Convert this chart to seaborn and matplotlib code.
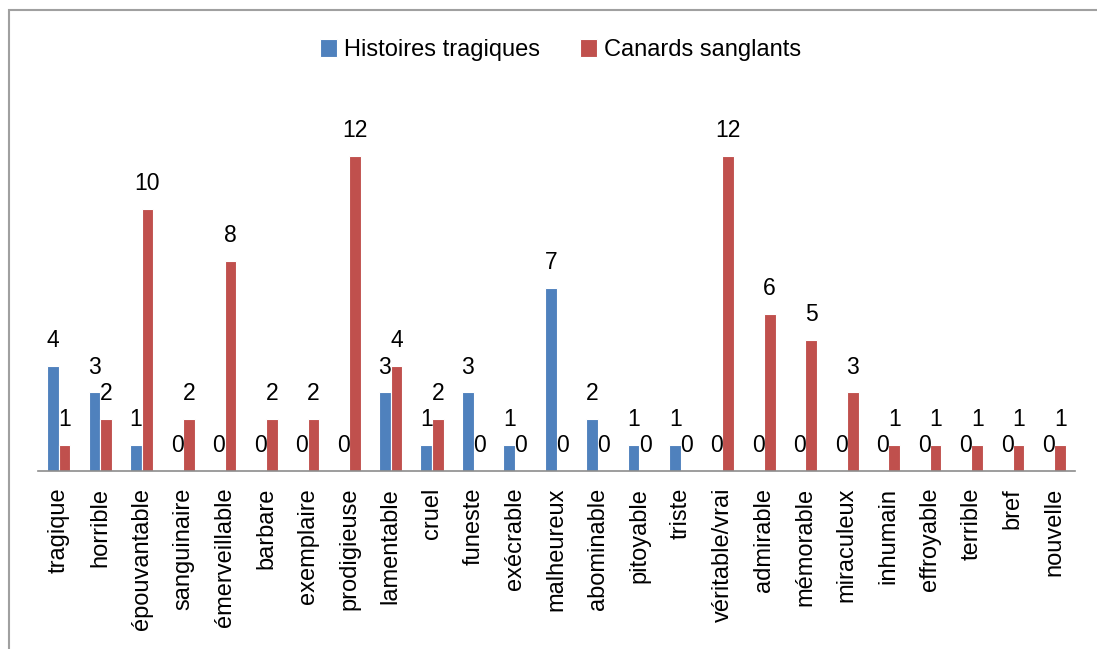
import matplotlib
matplotlib.use("Agg")
import matplotlib.pyplot as plt
import seaborn as sns
import pandas as pd
from matplotlib.patches import Rectangle

# ===== 数据 =====
categories = ["tragique", "horrible", "épouvantable", "sanguinaire", "émerveillable",
              "barbare", "exemplaire", "prodigieuse", "lamentable", "cruel", "funeste",
              "exécrable", "malheureux", "abominable", "pitoyable", "triste",
              "véritable/vrai", "admirable", "mémorable", "miraculeux", "inhumain",
              "effroyable", "terrible", "bref", "nouvelle"]
histoires = [4, 3, 1, 0, 0, 0, 0, 0, 3, 1, 3, 1, 7, 2, 1, 1, 0, 0, 0, 0, 0, 0, 0, 0, 0]
canards = [1, 2, 10, 2, 8, 2, 2, 12, 4, 2, 0, 0, 0, 0, 0, 0, 12, 6, 5, 3, 1, 1, 1, 1, 1]
series = ["Histoires tragiques", "Canards sanglants"]
colors = ["#4F81BD", "#C0504D"]

df = pd.DataFrame({
    "mot": categories * 2,
    "valeur": histoires + canards,
    "source": [series[0]] * len(categories) + [series[1]] * len(categories),
})

sns.set_style("white")
plt.rcParams["font.family"] = ["Liberation Sans", "DejaVu Sans"]
plt.rcParams["text.color"] = "black"
plt.rcParams["xtick.color"] = "black"

fig = plt.figure(figsize=(10.97, 6.49), dpi=100)
ax = fig.add_axes([0.0346, 0.274, 0.9454, 0.566])

sns.barplot(data=df, x="mot", y="valeur", hue="source", palette=colors,
            width=0.56, ax=ax, edgecolor="white", linewidth=0.8, saturation=1)

for cont in ax.containers:
    ax.bar_label(cont, padding=10, fontsize=16.5, color="black")

ax.set_ylim(0, 14)
ax.set_xlim(-0.5, len(categories) - 0.5)
ax.set_xlabel("")
ax.set_ylabel("")
ax.set_yticks([])
ax.tick_params(axis="x", rotation=90, labelsize=17, length=0, pad=12, labelcolor="black")
for s in ["top", "right", "left"]:
    ax.spines[s].set_visible(False)
ax.spines["bottom"].set_color("#8C8C8C")
ax.spines["bottom"].set_linewidth(1.2)

ax.legend(loc="center", bbox_to_anchor=(0.504, 1.147), ncol=2, frameon=False,
          fontsize=17, handlelength=0.7, handleheight=0.85, handletextpad=0.3,
          columnspacing=1.7)

fig.patches.append(Rectangle((9 / 1097, -0.05), 1.2, 1.05 - 10 / 649,
                             transform=fig.transFigure, fill=False,
                             edgecolor="#A0A0A0", linewidth=1.5))

plt.savefig("out.png", dpi=100)
plt.close()
